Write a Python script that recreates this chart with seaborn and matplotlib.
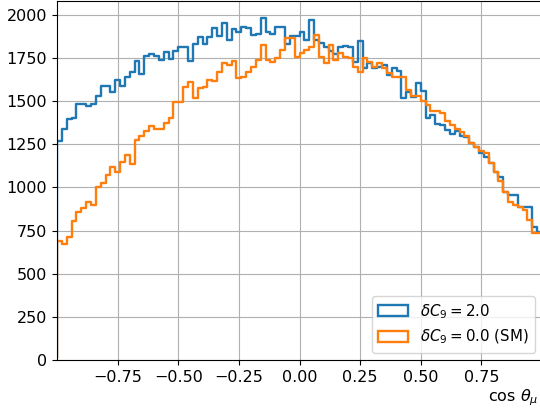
import numpy as np
import pandas as pd
import matplotlib
matplotlib.use("Agg")
import matplotlib.pyplot as plt
from matplotlib.patches import Patch, Rectangle
from matplotlib.collections import PolyCollection
import seaborn as sns

# ---- data (bin counts, 100 bins on [-1, 1]) ----
bin_lo, bin_hi, n_bins = -1.0, 1.0, 100
centers = np.round(np.linspace(-0.99, 0.99, n_bins), 3)

counts_dc9_2 = [
    1270, 1338, 1398, 1400, 1483, 1483, 1470, 1483, 1527, 1585,
    1585, 1554, 1620, 1585, 1638, 1667, 1735, 1656, 1763, 1773,
    1760, 1738, 1786, 1742, 1792, 1811, 1812, 1735, 1830, 1874,
    1830, 1874, 1923, 1880, 1952, 1855, 1919, 1900, 1928, 1926,
    1884, 1890, 1980, 1900, 1890, 1930, 1930, 1830, 1880, 1880,
    1900, 1855, 1971, 1855, 1835, 1812, 1790, 1771, 1816, 1820,
    1816, 1729, 1850, 1690, 1720, 1690, 1700, 1710, 1652, 1690,
    1675, 1517, 1555, 1525, 1604, 1556, 1400, 1420, 1365, 1360,
    1330, 1310, 1325, 1300, 1290, 1260, 1236, 1198, 1179, 1140,
    1092, 1063, 976, 957, 957, 885, 885, 885, 773, 744,
]

counts_sm = [
    687, 673, 710, 803, 860, 880, 918, 897, 1002, 1025,
    1070, 1121, 1092, 1146, 1185, 1138, 1277, 1296, 1325, 1354,
    1338, 1340, 1373, 1402, 1492, 1492, 1580, 1613, 1517, 1575,
    1584, 1623, 1618, 1671, 1720, 1708, 1733, 1632, 1640, 1670,
    1700, 1738, 1825, 1738, 1728, 1748, 1796, 1864, 1864, 1757,
    1777, 1796, 1816, 1883, 1758, 1719, 1825, 1738, 1777, 1758,
    1748, 1700, 1670, 1748, 1728, 1700, 1719, 1690, 1661, 1642,
    1642, 1642, 1565, 1527, 1527, 1498, 1478, 1440, 1440, 1430,
    1382, 1363, 1340, 1320, 1300, 1260, 1236, 1210, 1198, 1140,
    1090, 1040, 976, 918, 899, 885, 870, 812, 735, 735,
]

labels = [r"$\delta C_9 = 2.0$", r"$\delta C_9 = 0.0$ (SM)"]
colors = ["#1f77b4", "#ff7f0e"]
xticks = [-0.75, -0.50, -0.25, 0.00, 0.25, 0.50, 0.75]
yticks = [0, 250, 500, 750, 1000, 1250, 1500, 1750, 2000]

df = pd.DataFrame({
    "cos": np.concatenate([centers, centers]),
    "count": counts_dc9_2 + counts_sm,
    "series": [labels[0]] * n_bins + [labels[1]] * n_bins,
})

# ---- figure ----
plt.rcParams["font.size"] = 11.5
fig = plt.figure(figsize=(5.4, 4.13), dpi=100)
ax = fig.add_axes([57 / 540, (413 - 360) / 413, 485 / 540, 359 / 413])

for lab, col in zip(labels, colors):
    sub = df[df["series"] == lab]
    sns.histplot(data=sub, x="cos", weights="count", bins=n_bins,
                 binrange=(bin_lo, bin_hi), element="step", fill=True,
                 facecolor="none", color=col, linewidth=1.7, ax=ax)

# hide the closing edge of the step outline along y = 0 (step histograms have none)
clip_rect = Rectangle((0, 0.0045), 1, 1.2, transform=ax.transAxes)
for coll in ax.collections:
    if isinstance(coll, PolyCollection):
        coll.set_clip_path(clip_rect)

ax.set_xlim(bin_lo, bin_hi)
ax.set_ylim(0, 2080)
ax.set_xticks(xticks)
ax.set_yticks(yticks)
ax.set_xticklabels([f"{t:.2f}".replace("-", "\u2212") for t in xticks])
ax.grid(True, color="#b0b0b0", linewidth=0.8)
ax.set_axisbelow(True)
ax.set_ylabel("")
ax.set_xlabel(r"$\cos\,\theta_\mu$", ha="right")
ax.xaxis.set_label_coords(0.9935, -0.075)

handles = [Patch(facecolor="none", edgecolor=c, linewidth=1.7) for c in colors]
ax.legend(handles, labels, loc="lower right", fontsize=10.8)

fig.savefig("out.png", dpi=100)
